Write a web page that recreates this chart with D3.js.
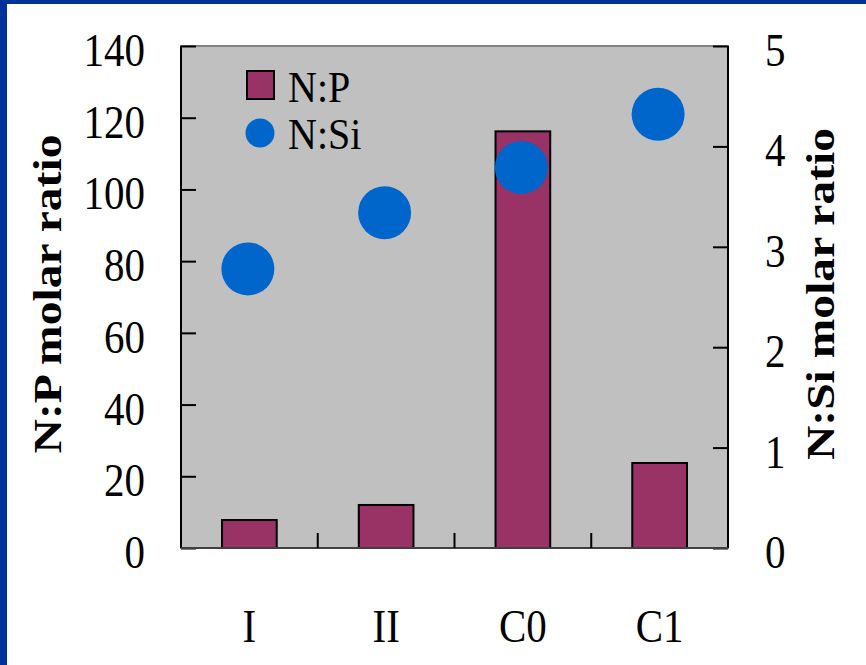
<!DOCTYPE html>
<html>
<head>
<meta charset="utf-8">
<script src="https://cdn.jsdelivr.net/npm/d3@7"></script>
<style>
  html, body { margin: 0; padding: 0; background: #ffffff; }
  svg { display: block; }
  text { font-family: "Liberation Serif", "Times New Roman", serif; fill: #000; }
</style>
</head>
<body>
<svg id="chart" width="866" height="665"></svg>
<script>
const categories = ["I", "II", "C0", "C1"];
const npValues = [7.8, 12.0, 116.2, 23.7];
const nsiValues = [2.78, 3.34, 3.79, 4.32];
const leftTicks = [0, 20, 40, 60, 80, 100, 120, 140];
const rightTicks = [0, 1, 2, 3, 4, 5];
const seriesNames = ["N:P", "N:Si"];

const svg = d3.select("#chart");
const W = 866, H = 665;
const plot = { left: 181, right: 728, top: 46, bottom: 548 };
const FS = 41, SY = 1.15;

// frame
svg.append("rect").attr("x", 0).attr("y", 0).attr("width", W).attr("height", H).attr("fill", "#ffffff");
svg.append("rect").attr("x", 0).attr("y", 0).attr("width", W).attr("height", 4).attr("fill", "#003399");
svg.append("rect").attr("x", 0).attr("y", 0).attr("width", 7).attr("height", H).attr("fill", "#003399");

const x = d3.scaleBand().domain(categories).range([plot.left, plot.right]).paddingInner(0.6).paddingOuter(0.3);
const xb = d3.scaleBand().domain(categories).range([plot.left, plot.right]);
const yL = d3.scaleLinear().domain([0, 140]).range([plot.bottom, plot.top]);
const yR = d3.scaleLinear().domain([0, 5]).range([plot.bottom, plot.top]);

// plot background
svg.append("rect")
  .attr("x", plot.left).attr("y", plot.top)
  .attr("width", plot.right - plot.left).attr("height", plot.bottom - plot.top)
  .attr("fill", "#c0c0c0").attr("stroke", "#808080").attr("stroke-width", 2);

// bars
svg.append("g").selectAll("rect").data(categories).join("rect")
  .attr("x", d => x(d))
  .attr("width", x.bandwidth())
  .attr("y", (d, i) => yL(npValues[i]))
  .attr("height", (d, i) => yL(0) - yL(npValues[i]))
  .attr("fill", "#993366").attr("stroke", "#000").attr("stroke-width", 2);

// circles
svg.append("g").selectAll("circle").data(categories).join("circle")
  .attr("cx", d => xb(d) + xb.bandwidth() / 2 - 1.5)
  .attr("cy", (d, i) => yR(nsiValues[i]))
  .attr("r", 26.5)
  .attr("fill", "#0066cc");

// left axis
const leftAxis = d3.axisRight(yL).tickValues(leftTicks).tickSize(15).tickFormat("");
const gl = svg.append("g").attr("transform", `translate(${plot.left},0)`).call(leftAxis);
gl.select(".domain").attr("stroke", "#000").attr("stroke-width", 2).attr("d", `M0,${plot.top}V${plot.bottom}`);
gl.selectAll(".tick line").attr("stroke", "#000").attr("stroke-width", 2);

svg.append("g").selectAll("text").data(leftTicks).join("text")
  .attr("transform", d => `translate(145,${yL(d) + 20}) scale(1,${SY})`)
  .attr("text-anchor", "end").attr("font-size", FS)
  .text(d => d);

// right axis
const rightAxis = d3.axisLeft(yR).tickValues(rightTicks).tickSize(15).tickFormat("");
const gr = svg.append("g").attr("transform", `translate(${plot.right},0)`).call(rightAxis);
gr.select(".domain").attr("stroke", "#000").attr("stroke-width", 2).attr("d", `M0,${plot.top}V${plot.bottom}`);
gr.selectAll(".tick line").attr("stroke", "#000").attr("stroke-width", 2);

svg.append("g").selectAll("text").data(rightTicks).join("text")
  .attr("transform", d => `translate(765,${yR(d) + 20}) scale(1,${SY})`)
  .attr("text-anchor", "start").attr("font-size", FS)
  .text(d => d);

// bottom axis
svg.append("line").attr("x1", plot.left).attr("x2", plot.right)
  .attr("y1", plot.bottom).attr("y2", plot.bottom)
  .attr("stroke", "#404040").attr("stroke-width", 2);
svg.append("g").selectAll("line").data(categories.slice(1)).join("line")
  .attr("x1", d => xb(d)).attr("x2", d => xb(d))
  .attr("y1", plot.bottom).attr("y2", plot.bottom - 15)
  .attr("stroke", "#000").attr("stroke-width", 2);

svg.append("g").selectAll("text").data(categories).join("text")
  .attr("transform", d => `translate(${xb(d) + xb.bandwidth() / 2},642) scale(1,${SY})`)
  .attr("text-anchor", "middle").attr("font-size", FS)
  .text(d => d);

// axis titles
svg.append("text")
  .attr("transform", `translate(61,294) scale(1,1.22) rotate(-90)`)
  .attr("text-anchor", "middle").attr("font-size", 39).attr("font-weight", "bold")
  .text("N:P molar ratio");
svg.append("text")
  .attr("transform", `translate(834,294) scale(1,1.22) rotate(-90)`)
  .attr("text-anchor", "middle").attr("font-size", 39).attr("font-weight", "bold")
  .text("N:Si molar ratio");

// legend
svg.append("rect").attr("x", 247).attr("y", 71).attr("width", 27).attr("height", 28)
  .attr("fill", "#993366").attr("stroke", "#000").attr("stroke-width", 2);
svg.append("circle").attr("cx", 260).attr("cy", 133).attr("r", 14.5).attr("fill", "#0066cc");
svg.append("text").attr("transform", `translate(288,102) scale(1,1.1)`).attr("font-size", 40).text(seriesNames[0]);
svg.append("text").attr("transform", `translate(288,149) scale(1,1.1)`).attr("font-size", 40).text(seriesNames[1]);
</script>
</body>
</html>
